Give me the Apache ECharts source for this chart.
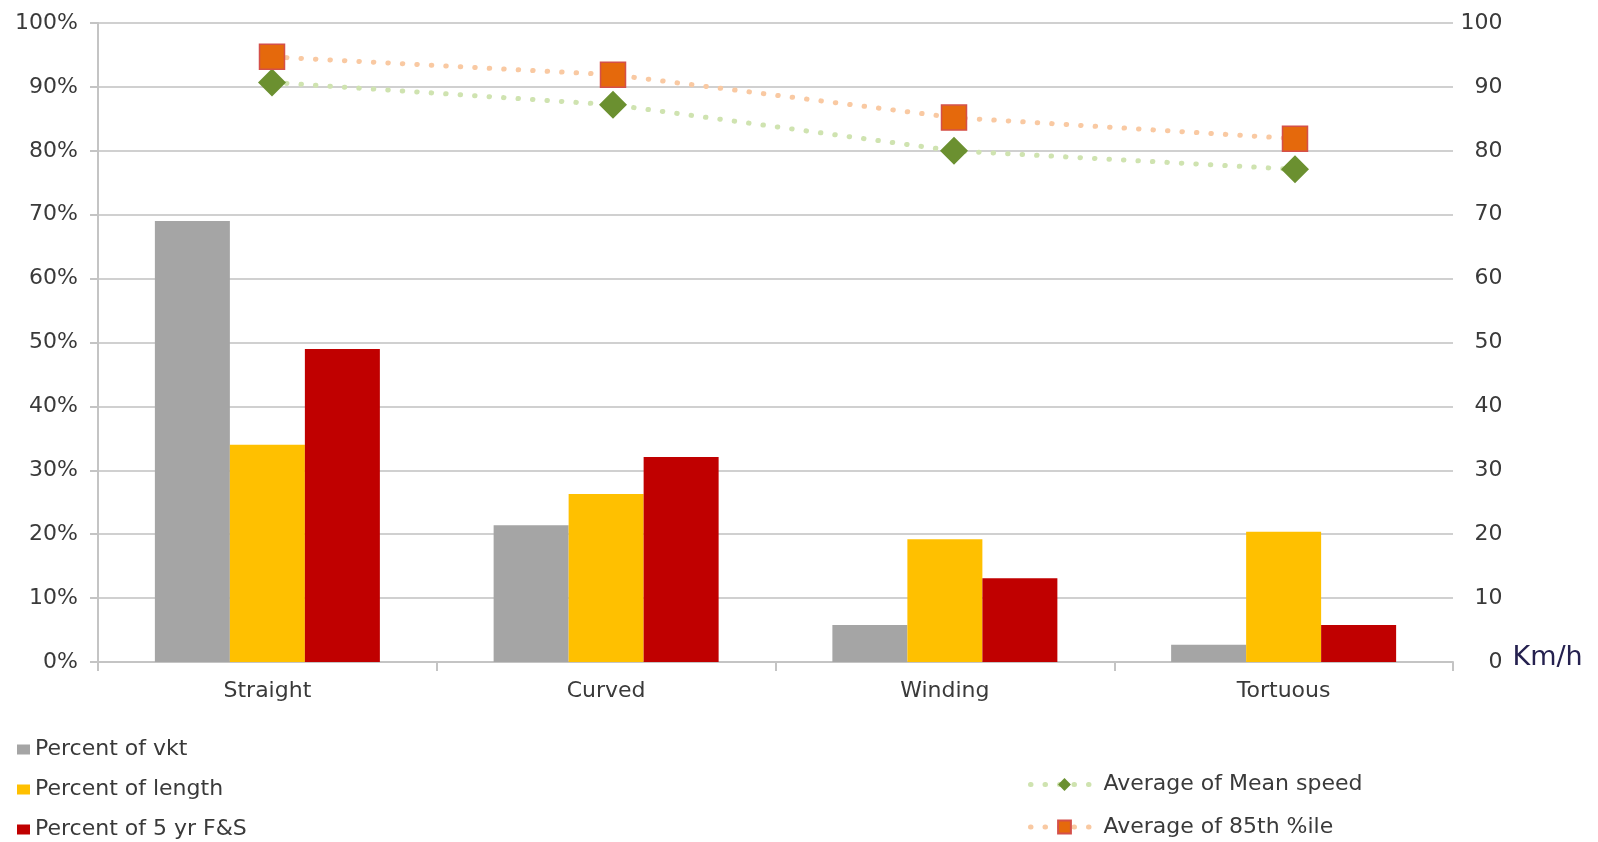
<!DOCTYPE html>
<html>
<head>
<meta charset="utf-8">
<script src="https://cdn.jsdelivr.net/npm/echarts@6/dist/echarts.min.js"></script>
<style>
  html, body { margin: 0; padding: 0; background: #fff; }
  #chart { width: 1598px; height: 842px; }
</style>
</head>
<body>
<div id="chart"></div>
<script>
// data
const categories = ['Straight', 'Curved', 'Winding', 'Tortuous'];
const pctVkt = [69.0, 21.4, 5.8, 2.7];
const pctLength = [34.0, 26.3, 19.2, 20.4];
const pctFS = [49.0, 32.1, 13.1, 5.8];
const meanSpeed = [90.7, 87.2, 80.0, 77.1];
const speed85 = [94.7, 91.9, 85.2, 81.9];
const leftTicks = { min: 0, max: 100, interval: 10 };
const rightTicks = { min: 0, max: 100, interval: 10 };

const FONT = 'DejaVu Sans';
const labelColor = '#3a3a3a';
const gridGray = '#d0d0d0';

const chart = echarts.init(document.getElementById('chart'));

const dotted = (color) => ({
  color: color,
  width: 5,
  type: [0.5, 14],
  cap: 'round'
});

chart.setOption({
  backgroundColor: '#fff',
  animation: false,
  textStyle: { fontFamily: FONT },
  grid: [
    // bars
    { left: 98, right: 145, top: 23, bottom: 180 },
    // lines (markers sit a little to the right in the original)
    { left: 101.5, right: 132.5, top: 23, bottom: 180 }
  ],
  legend: [
    {
      orient: 'vertical',
      left: 17,
      top: 738,
      padding: 0,
      itemWidth: 13,
      itemHeight: 10,
      itemGap: 17,
      icon: 'rect',
      data: ['Percent of vkt', 'Percent of length', 'Percent of 5 yr F&S'],
      textStyle: { fontFamily: FONT, fontSize: 22, color: labelColor, lineHeight: 23 }
    },
    {
      orient: 'vertical',
      left: 1028,
      top: 773,
      padding: 0,
      itemWidth: 68,
      itemHeight: 16,
      itemGap: 19.5,
      data: ['Average of Mean speed', 'Average of 85th %ile'],
      lineStyle: { width: 5, type: [0.5, 14], cap: 'round' },
      textStyle: { fontFamily: FONT, fontSize: 22, color: labelColor, lineHeight: 23 }
    }
  ],
  xAxis: [
    {
      type: 'category',
      gridIndex: 0,
      data: categories,
      axisLine: { show: true, lineStyle: { color: '#c4c4c4', width: 2 } },
      axisTick: { show: true, length: 9, lineStyle: { color: '#c4c4c4', width: 2 } },
      axisLabel: { fontFamily: FONT, fontSize: 22, color: labelColor, margin: 18 }
    },
    {
      type: 'category',
      gridIndex: 1,
      data: categories,
      show: false
    }
  ],
  yAxis: [
    {
      type: 'value',
      gridIndex: 0,
      min: leftTicks.min,
      max: leftTicks.max,
      interval: leftTicks.interval,
      axisLine: { show: true, lineStyle: { color: '#c4c4c4', width: 2 } },
      axisTick: { show: true, length: 8, lineStyle: { color: '#c4c4c4', width: 2 } },
      axisLabel: { fontFamily: FONT, fontSize: 22, color: labelColor, margin: 20, formatter: '{value}%' },
      splitLine: { show: true, lineStyle: { color: gridGray, width: 2 } }
    },
    {
      type: 'value',
      gridIndex: 1,
      position: 'right',
      min: rightTicks.min,
      max: rightTicks.max,
      interval: rightTicks.interval,
      axisLine: { show: false },
      axisTick: { show: false },
      splitLine: { show: false },
      axisLabel: { fontFamily: FONT, fontSize: 22, color: labelColor, margin: 37, align: 'right' },
      name: 'Km/h',
      nameLocation: 'start',
      nameGap: -4,
      nameTextStyle: {
        fontFamily: FONT, fontSize: 27, color: '#25214f',
        align: 'left', verticalAlign: 'middle', padding: [0, 0, 0, 47]
      }
    }
  ],
  series: [
    {
      name: 'Percent of vkt', type: 'bar', xAxisIndex: 0, yAxisIndex: 0,
      data: pctVkt, barWidth: 75, barGap: '0%',
      itemStyle: { color: '#a5a5a5' }
    },
    {
      name: 'Percent of length', type: 'bar', xAxisIndex: 0, yAxisIndex: 0,
      data: pctLength, barWidth: 75, barGap: '0%',
      itemStyle: { color: '#ffc000' }
    },
    {
      name: 'Percent of 5 yr F&S', type: 'bar', xAxisIndex: 0, yAxisIndex: 0,
      data: pctFS, barWidth: 75, barGap: '0%',
      itemStyle: { color: '#c00000' }
    },
    {
      name: 'Average of Mean speed', type: 'line', xAxisIndex: 1, yAxisIndex: 1,
      data: meanSpeed,
      symbol: 'diamond', symbolSize: 28,
      itemStyle: { color: '#6b9030' },
      lineStyle: dotted('#cfe3b0'),
      z: 5
    },
    {
      name: 'Average of 85th %ile', type: 'line', xAxisIndex: 1, yAxisIndex: 1,
      data: speed85,
      symbol: 'rect', symbolSize: 25,
      itemStyle: { color: '#e5690c', borderColor: '#d4504a', borderWidth: 1.5 },
      lineStyle: dotted('#f9c9a2'),
      z: 6
    }
  ]
});
</script>
</body>
</html>
